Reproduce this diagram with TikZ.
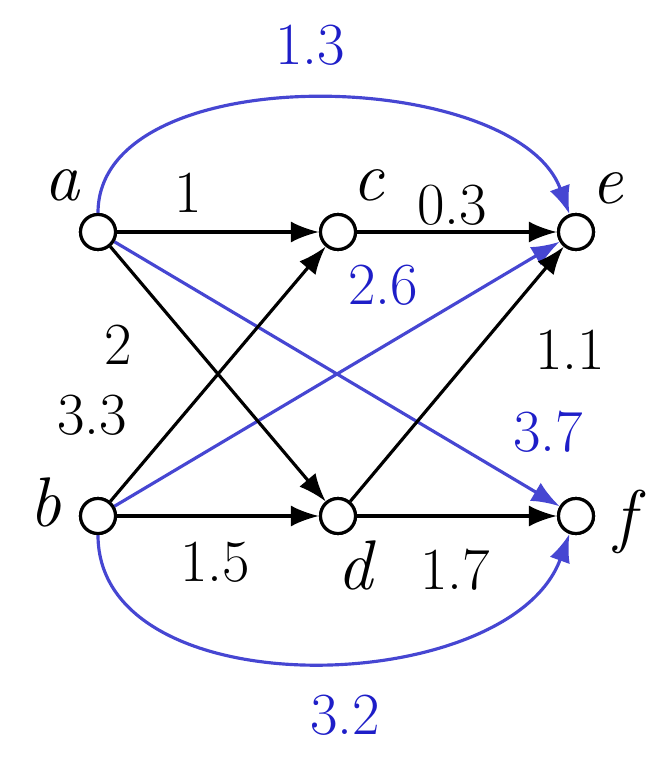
\documentclass[tikz,border=0pt]{standalone}
\usepackage{fontspec}
\usetikzlibrary{arrows.meta}
\begin{document}
\begin{tikzpicture}[x=0.02cm,y=-0.02cm,
  vtx/.style={circle,draw,line width=1.8pt,minimum size=0.7cm,inner sep=0pt,fill=white},
  lab/.style={font=\fontsize{34}{38}\selectfont},
  let/.style={font=\fontsize{40}{44}\selectfont\itshape},
  blk/.style={line width=1.8pt,-{Latex[length=16pt,width=12pt]}},
  blu/.style={line width=1.8pt,draw={rgb,255:red,70;green,70;blue,210},-{Latex[length=16pt,width=12pt]}},
  bt/.style={lab,text={rgb,255:red,30;green,30;blue,200}}]
\useasboundingbox (0,0) rectangle (663,757);
\node[vtx] (a) at (98,232) {};
\node[vtx] (c) at (338,232) {};
\node[vtx] (e) at (576,232) {};
\node[vtx] (b) at (98,516) {};
\node[vtx] (d) at (338,516) {};
\node[vtx] (f) at (576,516) {};
\node[let] (la) at (62,185) {a};
\node[let] (lc) at (368,185) {c};
\node[let] (le) at (607,188) {e};
\node[let] (lb) at (45,502) {b};
\node[let] (ld) at (355,565) {d};
\node[let] (lf) at (625,522) {f};
\draw[blu] (a) to[out=90,in=110,looseness=0.85] (e);
\draw[blu] (b) to[out=-90,in=-110,looseness=0.95] (f);
\draw[blu] (a) -- (f);
\draw[blu] (b) -- (e);
\draw[blk] (a) -- (c);
\draw[blk] (a) -- (d);
\draw[blk] (c) -- (e);
\draw[blk] (b) -- (c);
\draw[blk] (b) -- (d);
\draw[blk] (d) -- (e);
\draw[blk] (d) -- (f);
\node[vtx] at (a) {};\node[vtx] at (b) {};\node[vtx] at (c) {};
\node[vtx] at (d) {};\node[vtx] at (e) {};\node[vtx] at (f) {};
\node[bt] (w13) at (310,45) {1.3};
\node[lab] (w1) at (188,193) {1};
\node[lab] (w03) at (452,205) {0.3};
\node[bt] (w26) at (383,285) {2.6};
\node[lab] (w2) at (118,345) {2};
\node[lab] (w11) at (570,350) {1.1};
\node[lab] (w33) at (92,415) {3.3};
\node[bt] (w37) at (548,432) {3.7};
\node[lab] (w15) at (215,562) {1.5};
\node[lab] (w17) at (455,570) {1.7};
\node[bt] (w32) at (345,715) {3.2};
\end{tikzpicture}
\end{document}
